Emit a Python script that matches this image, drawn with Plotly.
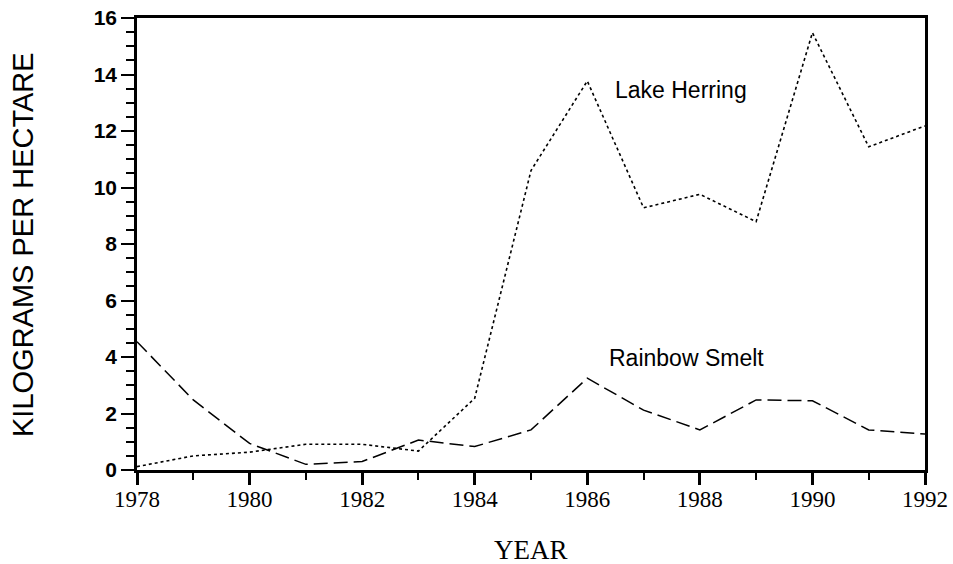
import plotly.graph_objects as go

years = list(range(1978, 1993))
lake_herring = [0.12, 0.5, 0.63, 0.91, 0.91, 0.67, 2.54, 10.6, 13.77, 9.28, 9.76, 8.79, 15.48, 11.44, 12.18]
rainbow_smelt = [4.54, 2.48, 0.94, 0.2, 0.3, 1.06, 0.83, 1.42, 3.25, 2.12, 1.42, 2.48, 2.45, 1.42, 1.27]
y_ticks = list(range(0, 17, 2))
x_ticks = list(range(1978, 1993, 2))

fig = go.Figure()
fig.add_trace(go.Scatter(x=years, y=lake_herring, mode="lines", name="Lake Herring",
                         line=dict(color="black", width=1.6, dash="dot")))
fig.add_trace(go.Scatter(x=years, y=rainbow_smelt, mode="lines", name="Rainbow Smelt",
                         line=dict(color="black", width=1.5, dash="14px,6px")))

fig.update_layout(
    width=953, height=564,
    margin=dict(l=137, r=28, t=18, b=94),
    paper_bgcolor="white", plot_bgcolor="white",
    showlegend=False,
    xaxis=dict(range=[1978, 1992], tickvals=x_ticks, ticktext=[str(v) for v in x_ticks],
               automargin=False, ticklabeloverflow="allow", ticklabelstandoff=-5,
               showgrid=False, zeroline=False, showline=True, linecolor="black", linewidth=2.5,
               mirror=True, ticks="outside", ticklen=12, tickwidth=2.5, tickcolor="black",
               minor=dict(dtick=1, ticks="outside", ticklen=7, tickwidth=2, tickcolor="black", showgrid=False),
               tickfont=dict(family="Liberation Serif, Times New Roman, serif", size=23, color="black")),
    yaxis=dict(range=[0, 16], tickvals=y_ticks, ticktext=[str(v) for v in y_ticks],
               automargin=False, ticklabeloverflow="allow",
               showgrid=False, zeroline=False, showline=True, linecolor="black", linewidth=2.5,
               mirror=True, ticks="outside", ticklen=13, tickwidth=2, tickcolor="black",
               minor=dict(dtick=0.5, ticks="outside", ticklen=8, tickwidth=2, tickcolor="black", showgrid=False),
               tickfont=dict(family="Liberation Sans, Arial, sans-serif", size=21, color="black", weight="bold")),
    annotations=[
        dict(x=1987.66, y=13.45, xref="x", yref="y", text="Lake Herring", showarrow=False,
             font=dict(family="Liberation Sans, Arial, sans-serif", size=23, color="black"),
             xanchor="center", yanchor="middle"),
        dict(x=1987.77, y=3.96, xref="x", yref="y", text="Rainbow Smelt", showarrow=False,
             font=dict(family="Liberation Sans, Arial, sans-serif", size=23, color="black"),
             xanchor="center", yanchor="middle"),
        dict(x=-0.1447, y=0.5, xref="paper", yref="paper", text="KILOGRAMS PER HECTARE",
             showarrow=False, textangle=-90,
             font=dict(family="Liberation Sans, Arial, sans-serif", size=29, color="black"),
             xanchor="center", yanchor="middle"),
        dict(x=0.5, y=-0.178, xref="paper", yref="paper", text="YEAR", showarrow=False,
             font=dict(family="Liberation Serif, Times New Roman, serif", size=27, color="black"),
             xanchor="center", yanchor="middle"),
    ],
)

# remove the page's default 8px body margin so the figure fills the window exactly
fig.write_html("out.html", config={"displayModeBar": False},
               post_script="document.body.style.margin='0';")
